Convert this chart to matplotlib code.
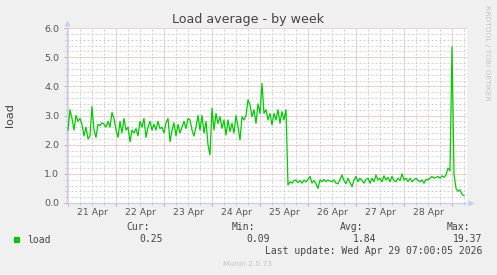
import numpy as np
import matplotlib.pyplot as plt
from matplotlib.patches import Rectangle
from matplotlib.ticker import MultipleLocator, FormatStrFormatter

# hourly load average, first value at Tue 21 Apr 00:00
load = [
    2.5, 3.2, 2.9, 2.5, 3.0, 2.8, 2.9, 2.7, 2.3, 2.6, 2.2, 2.3, 3.3, 2.5, 2.25, 2.7,
    2.65, 2.75, 2.7, 2.6, 2.8, 2.6, 3.1, 2.9, 2.5, 2.25, 2.8, 2.4, 2.9, 2.5, 2.6, 2.1,
    2.5, 2.4, 2.55, 2.3, 2.8, 2.6, 2.9, 2.25, 2.6, 2.8, 2.5, 2.7, 2.5, 2.8, 2.55, 2.6,
    2.4, 2.75, 2.9, 2.1, 2.5, 2.75, 2.3, 2.7, 2.4, 2.6, 2.8, 2.55, 2.9, 2.85, 2.5, 2.3,
    2.6, 3.0, 2.5, 3.0, 2.4, 2.8, 2.0, 1.65, 3.25, 2.5, 3.07, 2.73, 2.96, 2.56, 2.85, 2.33,
    2.85, 2.45, 2.73, 2.4, 3.0, 2.62, 2.16, 2.96, 2.85, 3.0, 3.54, 3.37, 2.96, 3.2, 2.73, 3.4,
    3.07, 4.1, 3.07, 3.2, 2.85, 3.07, 2.68, 3.07, 2.85, 3.2, 2.73, 3.13, 2.85, 3.2, 0.62, 0.73,
    0.68, 0.77, 0.79, 0.7, 0.77, 0.68, 0.79, 0.72, 0.81, 0.91, 0.68, 0.77, 0.66, 0.5, 0.79, 0.73,
    0.81, 0.73, 0.79, 0.75, 0.73, 0.79, 0.68, 0.66, 0.81, 0.96, 0.77, 0.66, 0.85, 0.7, 0.56, 0.79,
    0.91, 0.73, 0.85, 0.77, 0.68, 0.81, 0.85, 0.68, 0.85, 0.73, 0.96, 0.79, 0.85, 0.73, 0.93, 0.79,
    0.88, 0.73, 0.91, 0.77, 0.73, 0.85, 0.77, 1.0, 0.79, 0.85, 0.73, 0.85, 0.73, 0.79, 0.85, 0.77,
    0.73, 0.79, 0.68, 0.81, 0.79, 0.85, 0.91, 0.85, 0.88, 0.91, 0.85, 0.93, 0.88, 0.96, 1.2, 1.1,
    5.35, 1.0, 0.5, 0.4, 0.45, 0.3, 0.25,
]
days = ['21 Apr', '22 Apr', '23 Apr', '24 Apr', '25 Apr', '26 Apr', '27 Apr', '28 Apr']
stat_names = ['Cur:', 'Min:', 'Avg:', 'Max:']
stat_values = ['0.25', '0.09', '1.84', '19.37']
last_update = 'Last update: Wed Apr 29 07:00:05 2026'

W, H = 497, 275
BG = '#F0F0F0'
TXT = '#444444'
AXC = '#C8CCF6'


def px(x, y):
    return x / W, 1 - y / H


fig = plt.figure(figsize=(W / 100, H / 100), dpi=100, facecolor=BG)
ax = fig.add_axes([67 / W, 72 / H, 400 / W, 175 / H])
ax.set_facecolor('white')

hours = np.arange(len(load))
ax.plot(hours, load, color='#00CC00', lw=0.9, zorder=3)

ax.set_xlim(-0.5, 199.5)
ax.set_ylim(0, 6)

# grid: red at midnight / every 1.0, grey every 6h / 0.2
ax.xaxis.set_major_locator(MultipleLocator(24))
ax.xaxis.set_minor_locator(MultipleLocator(6))
ax.yaxis.set_major_locator(MultipleLocator(1))
ax.yaxis.set_minor_locator(MultipleLocator(0.2))
ax.yaxis.set_major_formatter(FormatStrFormatter('%.1f'))
ax.grid(which='major', color='#E9A0A0', ls=(0, (1, 1)), lw=0.72)
ax.grid(which='minor', color='#D0D0D0', ls=(0, (2, 2)), lw=0.72)
ax.set_axisbelow(True)

ax.tick_params(axis='x', which='both', labelbottom=False)
ax.tick_params(axis='x', which='major', length=2.5, color='#E9A0A0', width=0.8)
ax.tick_params(axis='x', which='minor', length=1.5, color='#C8C8C8', width=0.7)
ax.tick_params(axis='y', which='major', length=2, color='#E9A0A0', width=0.8,
               labelsize=6.8, labelcolor='#555555', pad=3.5)
ax.tick_params(axis='y', which='minor', length=1.5, color='#C8C8C8', width=0.7)

for s in ['top', 'right']:
    ax.spines[s].set_visible(False)
for s in ['left', 'bottom']:
    ax.spines[s].set_color(AXC)
    ax.spines[s].set_linewidth(0.9)

# axis arrows
ax.plot([0], [1.03], marker='^', ms=3.8, color=AXC, mec='none',
        transform=ax.transAxes, clip_on=False)
ax.plot([1.01], [0], marker='>', ms=3.8, color=AXC, mec='none',
        transform=ax.transAxes, clip_on=False)

# day labels at noon
sec = ax.secondary_xaxis('bottom')
sec.set_xticks(np.arange(len(days)) * 24 + 12, days)
sec.tick_params(length=0, labelsize=6.7, labelcolor='#555555', pad=3.5)
sec.spines['bottom'].set_visible(False)

fig.text(*px(248, 19), 'Load average - by week', ha='center', va='center',
         fontsize=9.1, color=TXT)
fig.text(*px(10, 115), 'load', rotation=90, ha='center', va='center',
         fontsize=8, color=TXT)
fig.text(*px(487, 5), 'RRDTOOL / TOBI OETIKER', rotation=-90, ha='center', va='top',
         fontsize=5.4, color='#C4C4C4')

# legend block
mono = 'DejaVu Sans Mono'
fig.patches.append(Rectangle(px(14, 243), 6 / W, 6 / H, transform=fig.transFigure,
                             facecolor='#00CC00', edgecolor='none'))
fig.text(*px(27, 240), 'load', family=mono, fontsize=7, color=TXT, va='center')
name_right = [150, 255, 363, 470]
value_right = [163, 270, 376, 482]
for name, val, xn, xv in zip(stat_names, stat_values, name_right, value_right):
    fig.text(*px(xn, 227), name, family=mono, fontsize=7, color=TXT, ha='right', va='center')
    fig.text(*px(xv, 239), val, family=mono, fontsize=7, color=TXT, ha='right', va='center')
fig.text(*px(482, 251), last_update, family=mono, fontsize=7, color=TXT,
         ha='right', va='center')
fig.text(*px(247, 264), 'Munin 2.0.73', fontsize=5.4, color='#C4C4C4',
         ha='center', va='center')

fig.savefig('out.png', dpi=100, facecolor=BG)
